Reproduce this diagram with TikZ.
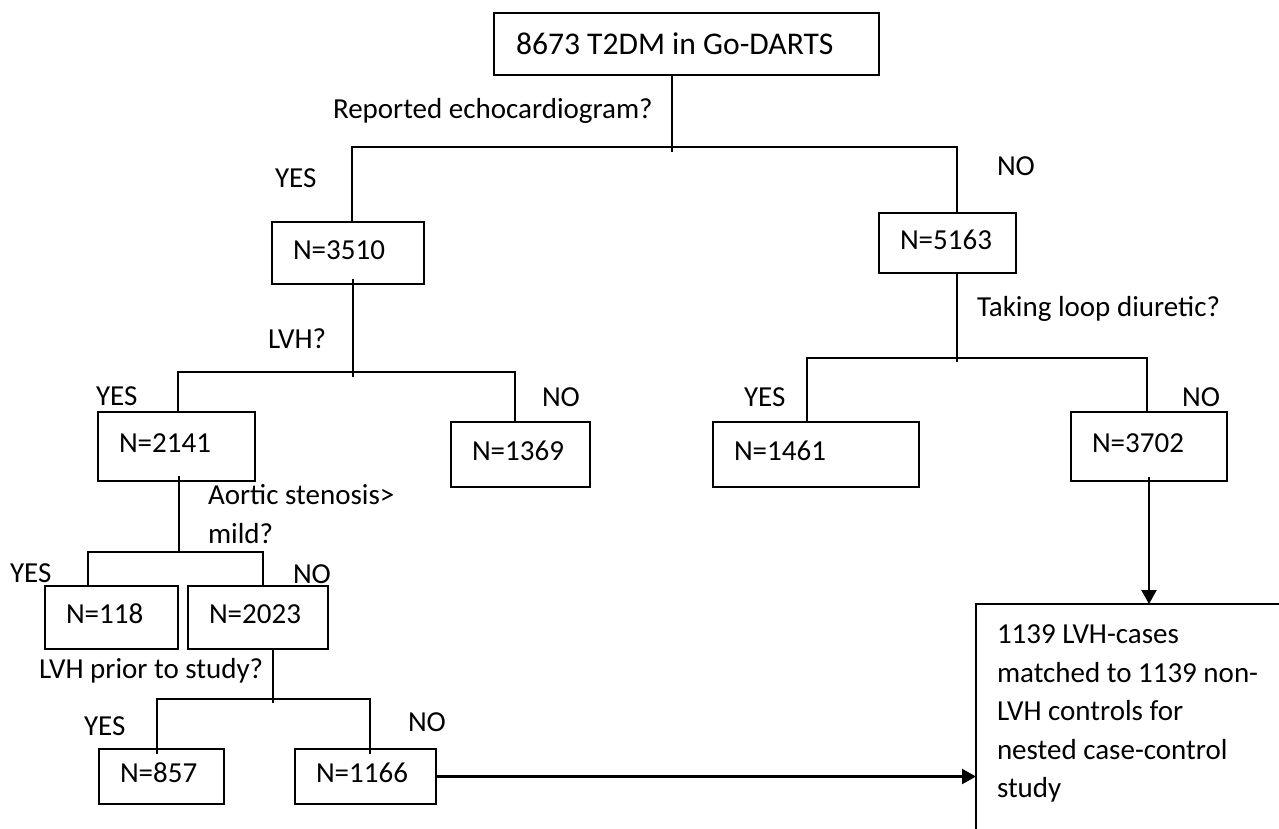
\documentclass[tikz,border=0pt]{standalone}
\usepackage{fontspec}
\setmainfont{Carlito}
\usetikzlibrary{arrows.meta,calc}
\begin{document}
\begin{tikzpicture}[x=1pt,y=-1pt,
  every node/.style={font=\fontsize{29}{38.5}\selectfont, inner sep=0pt, outer sep=0pt},
  nbox/.style={draw, line width=1.4pt, inner xsep=21pt, inner ysep=0pt, anchor=north west, align=left, text height=18.7pt, text depth=6pt},
  lbl/.style={anchor=base west},
  link/.style={line width=1.4pt},
  arr/.style={line width=2.2pt, -{Triangle[length=14pt,width=15pt]}}]
\useasboundingbox (0,0) rectangle (1279,828);
\clip (0,0) rectangle (1279,828);

% boxes
\node[draw, line width=1.4pt, anchor=north west, font=\fontsize{31.6}{38}\selectfont, inner xsep=22pt, inner ysep=0pt, text height=20.3pt, text depth=0pt, minimum height=62pt] (top) at (494,13) {\makebox[341pt][l]{8673 T2DM in Go-DARTS}};
\node[nbox, text width=110pt, minimum height=62pt] (n3510) at (272,222) {N=3510};
\node[nbox, text width=95pt, minimum height=60pt] (n5163) at (879,213) {N=5163};
\node[nbox, text width=115pt, minimum height=69pt] (n2141) at (98,412) {N=2141};
\node[nbox, text width=97pt, minimum height=65pt] (n1369) at (451,422) {N=1369};
\node[nbox, text width=164pt, minimum height=65pt] (n1461) at (713,422) {N=1461};
\node[nbox, text width=114pt, minimum height=69pt] (n3702) at (1071,412) {N=3702};
\node[nbox, text width=91pt, minimum height=63pt] (n118) at (45,586) {N=118};
\node[nbox, text width=98pt, minimum height=63pt] (n2023) at (188,586) {N=2023};
\node[nbox, text width=83pt, minimum height=55pt] (n857) at (99,749) {N=857};
\node[nbox, text width=99pt, minimum height=55pt] (n1166) at (295,749) {N=1166};
\node[draw, line width=1.4pt, anchor=north west, inner xsep=21pt, inner ysep=21pt] (big) at (976,604)
  {\parbox[t][300pt][t]{290pt}{1139 LVH-cases\\matched to 1139 non-\\LVH controls for\\nested case-control\\study}};

% labels
\node[lbl] (q1) at (333,118) {Reported echocardiogram?};
\node[lbl] (yes1) at (275,187) {YES};
\node[lbl] (no1) at (997,175) {NO};
\node[lbl] (q2) at (268,348) {LVH?};
\node[lbl] (yes2) at (96,405) {YES};
\node[lbl] (no2) at (542,406) {NO};
\node[lbl] (q3) at (977,316) {Taking loop diuretic?};
\node[lbl] (yes3) at (744,406) {YES};
\node[lbl] (no3) at (1182,406) {NO};
\node[lbl] (q4) at (208,504) {\parbox[t]{220pt}{\fontsize{29}{39}\selectfont Aortic stenosis>\\mild?}};
\node[lbl] (yes4) at (10,582) {YES};
\node[lbl] (no4) at (293,583) {NO};
\node[lbl] (q5) at (39,678) {LVH prior to study?};
\node[lbl] (yes5) at (84,735) {YES};
\node[lbl] (no5) at (408,731) {NO};

% junction coordinates
\coordinate (s1) at (672,152);
\coordinate (h1a) at (352,147);
\coordinate (h1b) at (957,147);
\coordinate (s2) at (353,377);
\coordinate (h2a) at (178,372);
\coordinate (h2b) at (515,372);
\coordinate (s3) at (957,362);
\coordinate (h3a) at (807,358);
\coordinate (h3b) at (1147,358);
\coordinate (s4) at (179,552);
\coordinate (h4a) at (88,552);
\coordinate (h4b) at (263,552);
\coordinate (s5) at (273,703);
\coordinate (h5a) at (157,699);
\coordinate (h5b) at (370,699);

% tree connectors
\draw[link] (s1 |- top.south) -- (s1);
\draw[link] (h1a |- n3510.north) -- (h1a) -- (h1b) -- (h1b |- n5163.north);

\draw[link] ($(s2 |- n3510.south)+(0,-5)$) -- (s2);
\draw[link] (h2a |- n2141.north) -- (h2a) -- (h2b) -- (h2b |- n1369.north);

\draw[link] (s3 |- n5163.south) -- (s3);
\draw[link] (h3a |- n1461.north) -- (h3a) -- (h3b) -- (h3b |- n3702.north);

\draw[link] ($(s4 |- n2141.south)+(0,-5)$) -- (s4);
\draw[link] (h4a |- n118.north) -- (h4a) -- (h4b) -- (h4b |- n2023.north);

\draw[link] (s5 |- n2023.south) -- (s5);
\draw[link] ($(h5a |- n857.north)+(0,5)$) -- (h5a) -- (h5b) -- ($(h5b |- n1166.north)+(0,5)$);

% arrows
\draw[arr] ($(n3702.south)+(0,-4)$) -- (n3702.south |- big.north);
\draw[arr] (n1166.east) -- (n1166.east -| big.west);
\end{tikzpicture}
\end{document}
